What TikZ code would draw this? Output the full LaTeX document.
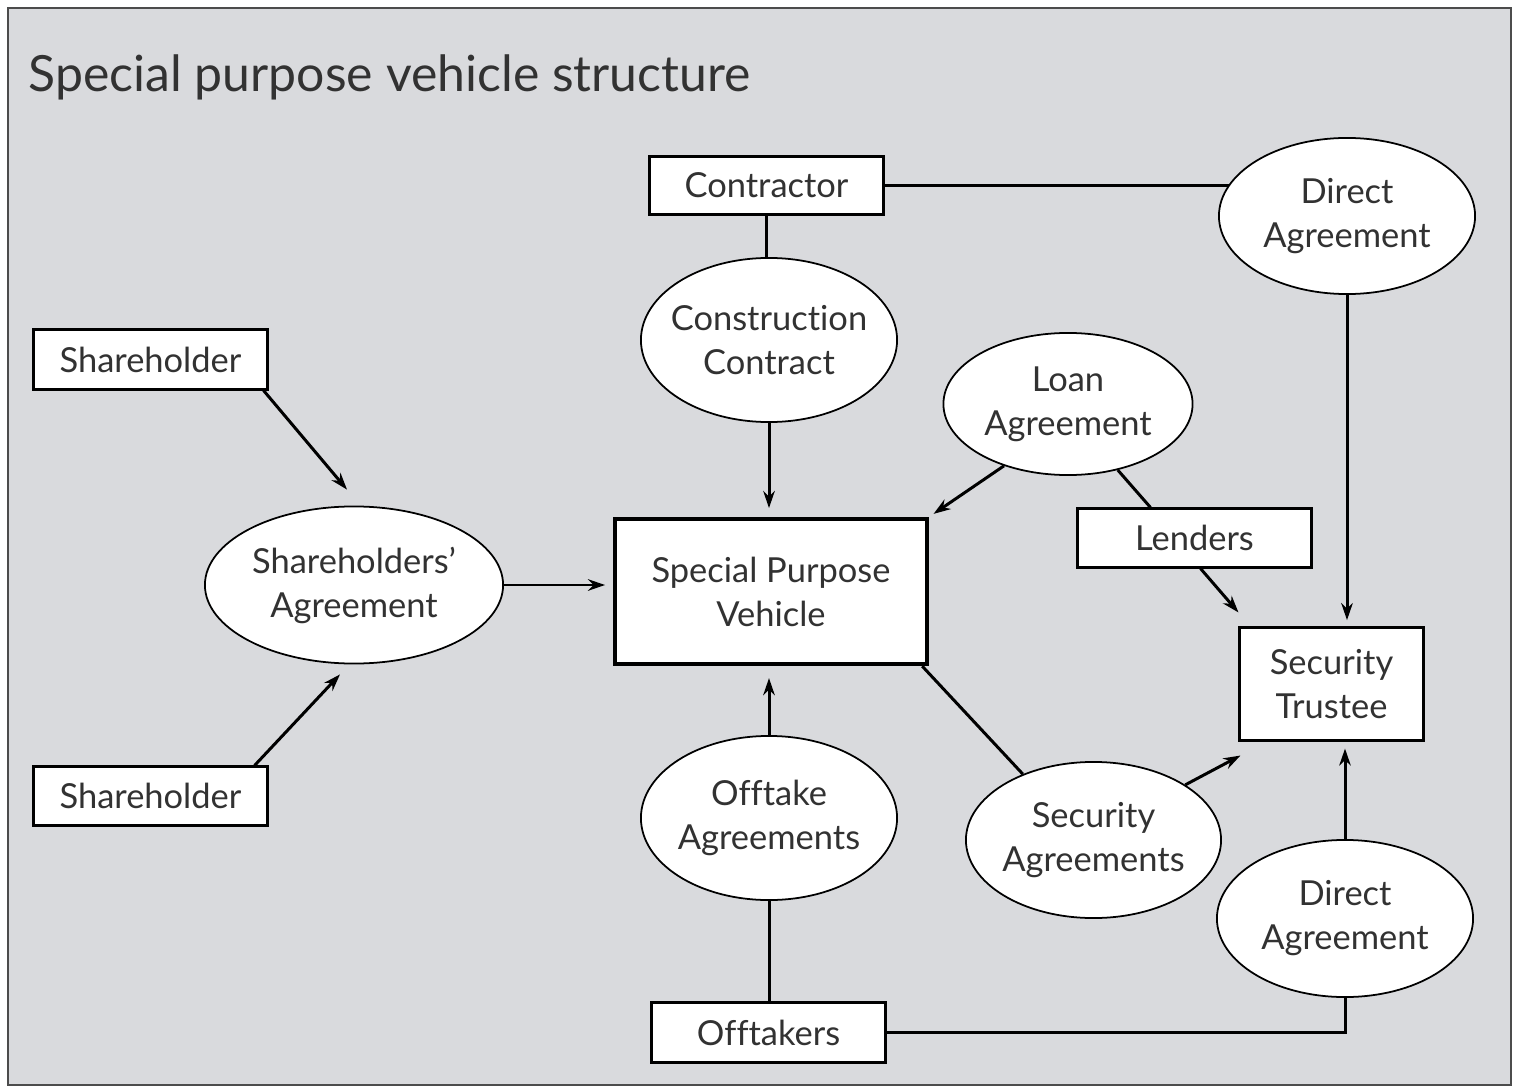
\documentclass[tikz,border=0pt]{standalone}
\usepackage{fontspec}
\setmainfont{Lato}[Ligatures={TeX,NoCommon}]
\usepackage{xcolor}
\usetikzlibrary{arrows.meta,shapes.geometric,calc}
\definecolor{panelgray}{RGB}{217,218,221}
\definecolor{inkgray}{RGB}{50,50,50}
\newcommand{\partyfont}{\fontsize{9.8}{12.5}\selectfont}

\begin{document}
\begin{tikzpicture}[
  x=0.01cm, y=-0.01cm,
  >={Stealth[length=1.7mm,width=1.15mm]},
  party/.style={draw=black,fill=white,line width=0.85pt,inner sep=0pt,
    minimum width=2.33cm,minimum height=0.58cm,font=\partyfont,text=inkgray},
  spvbox/.style={party,line width=1.2pt,align=center,
    minimum width=3.12cm,minimum height=1.45cm},
  agreement/.style={ellipse,draw=black,fill=white,line width=0.5pt,
    inner xsep=-8pt,inner ysep=0pt,minimum width=2.56cm,minimum height=1.6cm,
    align=center,font=\partyfont,text=inkgray},
  link/.style={black,line width=0.85pt},
  flow/.style={link,->,shorten >=2.5pt}
]
\path[use as bounding box] (0,0) rectangle (1524,1091);

\draw[draw=black!70,fill=panelgray,line width=0.6pt] (8,8) rectangle (1511,1085);
\node[anchor=base west,inner sep=0pt,font=\fontsize{14.2}{17}\selectfont,text=inkgray]
  (title) at (28,92) {Special purpose vehicle structure};

\node[party] (con) at (766.5,185.5) {Contractor};
\node[agreement,minimum height=1.56cm] (da1) at (1347,216) {Direct\\Agreement};
\node[agreement,minimum height=1.64cm] (cc) at (769,340) {Construction\\Contract};
\node[party,minimum height=0.59cm] (sh1) at (150.5,359.5) {Shareholder};
\node[agreement,minimum width=2.49cm,minimum height=1.42cm] (la) at (1068,404)
  {Loan\\Agreement};
\node[party] (len) at (1194.5,538) {Lenders};
\node[agreement,minimum width=2.98cm,minimum height=1.57cm] (sa) at (354,585)
  {Shareholders'\\Agreement};
\node[spvbox] (spv) at (771,591.5) {Special Purpose\\Vehicle};
\node[party,align=center,minimum width=1.83cm,minimum height=1.12cm] (st)
  at (1331.5,684) {Security\\Trustee};
\node[party] (sh2) at (150.5,796) {Shareholder};
\node[agreement,minimum height=1.64cm] (oa) at (769,818) {Offtake\\Agreements};
\node[agreement,minimum width=2.55cm,minimum height=1.56cm] (seca) at (1093.5,840)
  {Security\\Agreements};
\node[agreement,minimum height=1.57cm] (da2) at (1345,918.5) {Direct\\Agreement};
\node[party,minimum height=0.59cm] (off) at (768.5,1032.5) {Offtakers};

% contractor side
\draw[link] (con.east) -- (con.east -| da1.165);
\draw[link] (con.south) -- (con.south |- cc.north);
\draw[flow] (cc.south) -- (cc.south |- spv.north);
\draw[flow,shorten >=1.8pt] (da1.south) -- (da1.south |- st.north);

% lenders
\draw[flow,shorten >=1.5pt] (la.224) -- (spv.north east);
\draw[link] (la.307) -- ([shift={(-44,0)}]len.north);
\draw[flow,shorten >=0pt] ([shift={(6,0)}]len.south) -- ([shift={(0,-14)}]st.north west);

% shareholders
\draw[flow,shorten >=0pt] ([shift={(-5,0)}]sh1.south east) -- ([shift={(-7,-16)}]sa.north);
\draw[flow,shorten >=0pt] ([shift={(-14,0)}]sh2.north east) -- ([shift={(-14,10)}]sa.south);
\draw[flow,shorten >=2.2pt] (sa.east) -- (sa.east -| spv.west);

% offtake and security
\draw[flow,shorten >=3.4pt] (oa.north) -- (oa.north |- spv.south);
\draw[link] ([shift={(-7,0)}]spv.south east) -- (seca.137);
\draw[flow,shorten >=0pt] (seca.31) -- ([shift={(2,14)}]st.south west);
\draw[flow,shorten >=2pt] (da2.north) -- (da2.north |- st.south);
\draw[link] (oa.south) -- (oa.south |- off.north);
\draw[link] (off.east) -- (off.east -| da2.south) -- (da2.south);
\end{tikzpicture}
\end{document}
